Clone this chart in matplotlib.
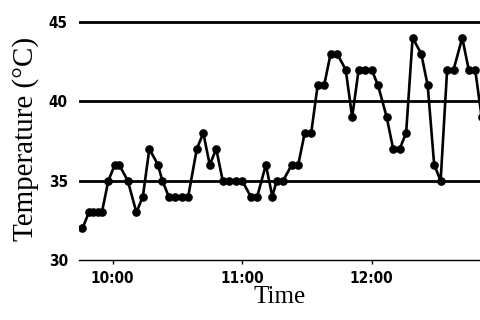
import matplotlib
matplotlib.use('Agg')
import matplotlib.pyplot as plt

# minutes after 10:00 and temperature readings (deg C)
minutes = [-14, -11, -9, -7, -5, -2, 1, 3, 7, 11, 14, 17, 21, 23, 26, 29,
           32, 35, 39, 42, 45, 48, 51, 54, 57, 60, 64, 67, 71, 74, 76, 79,
           83, 86, 89, 92, 95, 98, 101, 104, 108, 111, 114, 117, 120, 123,
           127, 130, 133, 136, 139, 143, 146, 149, 152, 155, 158, 162, 165,
           168, 171]
temps = [32, 33, 33, 33, 33, 35, 36, 36, 35, 33, 34, 37, 36, 35, 34, 34,
         34, 34, 37, 38, 36, 37, 35, 35, 35, 35, 34, 34, 36, 34, 35, 35,
         36, 36, 38, 38, 41, 41, 43, 43, 42, 39, 42, 42, 42, 41,
         39, 37, 37, 38, 44, 43, 41, 36, 35, 42, 42, 44, 42,
         42, 39]

tick_pos = [0, 60, 120]
tick_labels = ['10:00', '11:00', '12:00']
y_ticks = [30, 35, 40, 45]
ref_lines = [35, 40, 45]

fig = plt.figure(figsize=(4.81, 3.2), dpi=100)
ax = fig.add_axes([79 / 481, 60 / 320, 1 - 79 / 481, (260 - 18.8) / 320])

for y in ref_lines:
    ax.axhline(y, color='black', linewidth=2, zorder=1)

ax.plot(minutes, temps, color='black', linewidth=1.9, marker='o',
        markersize=5.2, zorder=3)

ax.set_xlim(-15.6, 170.7)
ax.set_ylim(30, 45.2)

tick_font = dict(family='DejaVu Sans', stretch='condensed',
                 weight='bold', size=11)
ax.set_yticks(y_ticks)
ax.set_yticklabels([str(v) for v in y_ticks], fontdict=tick_font)
ax.set_xticks(tick_pos)
ax.set_xticklabels(tick_labels, fontdict=tick_font)
ax.tick_params(axis='y', length=0, pad=8)
ax.tick_params(axis='x', length=3, width=1, pad=5, direction='out')

for s in ['top', 'right', 'left']:
    ax.spines[s].set_visible(False)
ax.spines['bottom'].set_linewidth(1)

ax.set_xlabel('Time', family='Liberation Serif', size=18, labelpad=0)
ax.set_ylabel('Temperature (\u00b0C)', family='Liberation Serif', size=21,
              labelpad=7)

fig.savefig('out.png', dpi=100)
